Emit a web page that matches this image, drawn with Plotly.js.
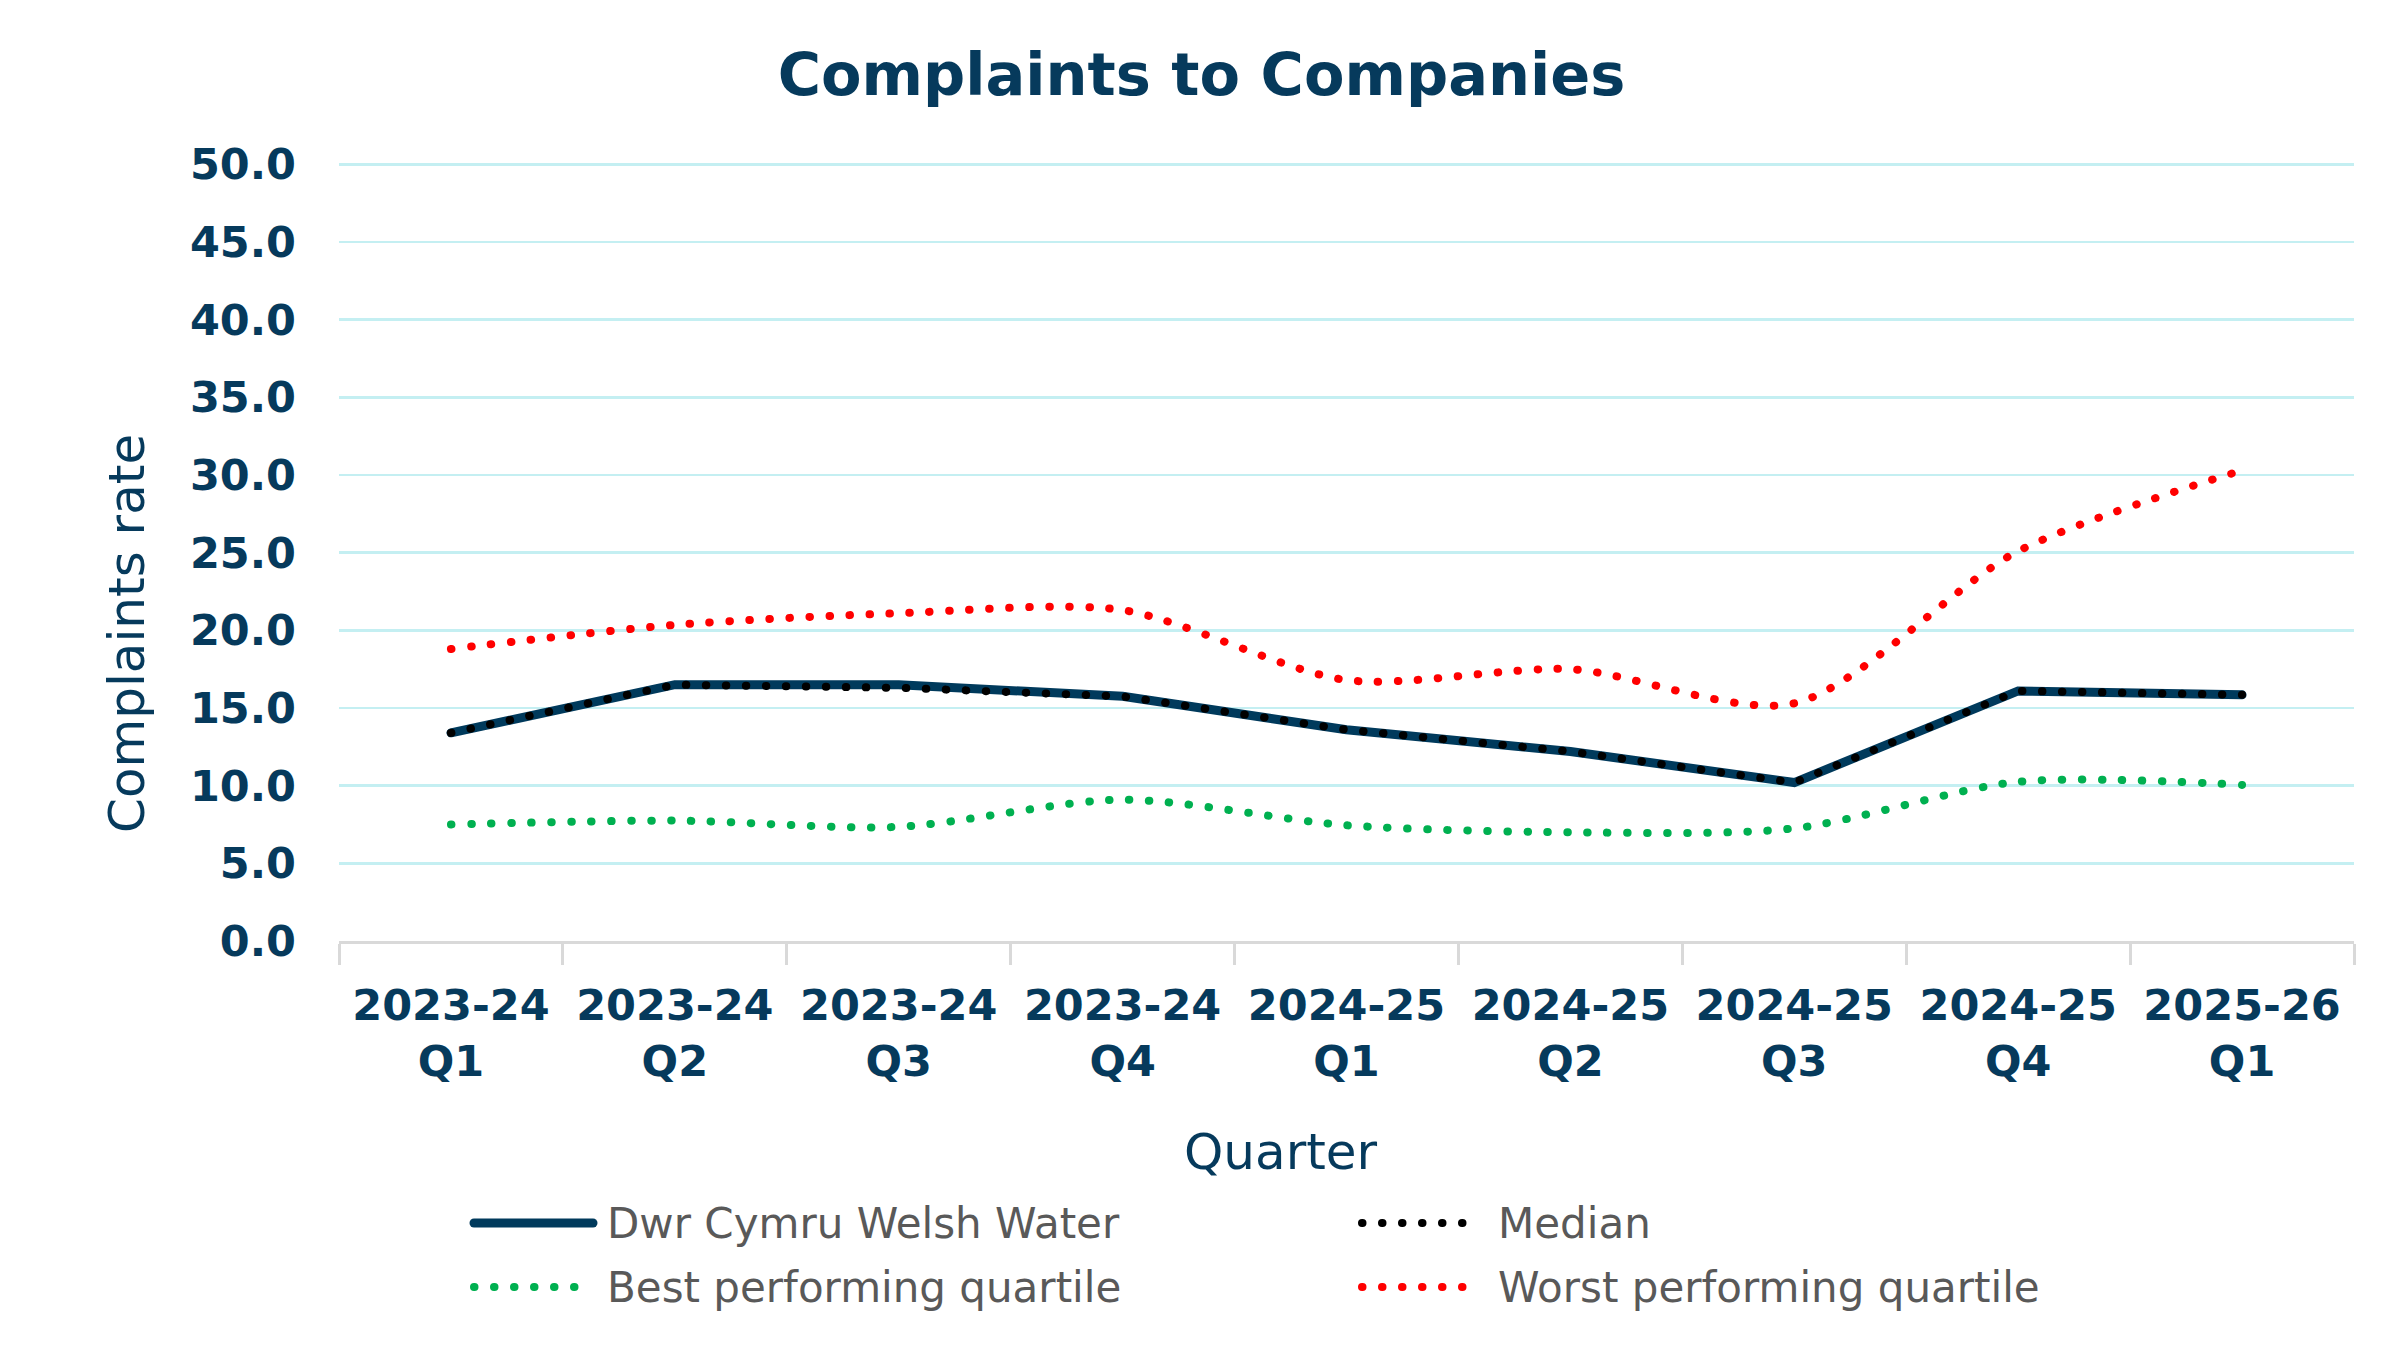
<!DOCTYPE html>
<html>
<head>
<meta charset="utf-8">
<script src="https://cdn.plot.ly/plotly-3.0.1.min.js"></script>
<style>
html, body { margin: 0; padding: 0; background: #ffffff; }
#chart { width: 2403px; height: 1350px; }
.scatterlayer path.js-line, .shapelayer path { stroke-linecap: round; }
</style>
</head>
<body>
<div id="chart"></div>
<script>
// ---- data ----
const categories = ['2023-24 Q1', '2023-24 Q2', '2023-24 Q3', '2023-24 Q4', '2024-25 Q1', '2024-25 Q2', '2024-25 Q3', '2024-25 Q4', '2025-26 Q1'];
const tickLabels = ['2023-24<br>Q1', '2023-24<br>Q2', '2023-24<br>Q3', '2023-24<br>Q4', '2024-25<br>Q1', '2024-25<br>Q2', '2024-25<br>Q3', '2024-25<br>Q4', '2025-26<br>Q1'];
const welshWater = [13.4, 16.5, 16.5, 15.75, 13.6, 12.2, 10.2, 16.1, 15.85];
const median = [13.4, 16.5, 16.3, 15.75, 13.6, 12.2, 10.2, 16.1, 15.85];
const bestQuartile = [7.5, 7.75, 7.35, 9.1, 7.45, 7.0, 7.25, 10.25, 10.05];
const worstQuartile = [18.8, 20.35, 21.1, 21.3, 16.8, 17.5, 15.3, 25.1, 30.3];
const seriesNames = ['Dwr Cymru Welsh Water', 'Median', 'Best performing quartile', 'Worst performing quartile'];
const yTickValues = [0, 5, 10, 15, 20, 25, 30, 35, 40, 45, 50];

// ---- style ----
const NAVY = '#063a5c';
const COLORS = ['#003a5c', '#000000', '#00b050', '#ff0000'];
const DOT = '0.5px,19.5px';
const W = 2403, H = 1350;
const PL = 339, PR = 2354, PT = 162, PB = 941;
const px2x = p => (p - PL) / (PR - PL);
const px2y = p => (PB - p) / (PB - PT);

const traces = [
  { x: categories, y: welshWater, name: seriesNames[0], type: 'scatter', mode: 'lines',
    line: { color: COLORS[0], width: 9 } },
  { x: categories, y: median, name: seriesNames[1], type: 'scatter', mode: 'lines',
    line: { color: COLORS[1], width: 8, dash: DOT } },
  { x: categories, y: bestQuartile, name: seriesNames[2], type: 'scatter', mode: 'lines',
    line: { color: COLORS[2], width: 8, dash: DOT, shape: 'spline', smoothing: 0.8 } },
  { x: categories, y: worstQuartile, name: seriesNames[3], type: 'scatter', mode: 'lines',
    line: { color: COLORS[3], width: 8, dash: DOT, shape: 'spline', smoothing: 0.8 } }
];

// custom legend
const legendItems = [
  { i: 0, x0: 474, x1: 593, y: 1223, tx: 605, dash: 'solid', w: 9 },
  { i: 1, x0: 1362, x1: 1470, y: 1223, tx: 1496, dash: DOT, w: 8 },
  { i: 2, x0: 474, x1: 578, y: 1287, tx: 605, dash: DOT, w: 8 },
  { i: 3, x0: 1362, x1: 1470, y: 1287, tx: 1496, dash: DOT, w: 8 }
];
const shapes = legendItems.map(it => ({
  type: 'line', xref: 'paper', yref: 'paper',
  x0: px2x(it.x0), x1: px2x(it.x1), y0: px2y(it.y), y1: px2y(it.y),
  line: { color: COLORS[it.i], width: it.w, dash: it.dash }
}));
const annotations = legendItems.map(it => ({
  xref: 'paper', yref: 'paper', x: px2x(it.tx), y: px2y(it.y),
  xanchor: 'left', yanchor: 'middle', showarrow: false,
  text: seriesNames[it.i],
  font: { family: 'DejaVu Sans', size: 42, color: '#595959' }
}));
annotations.push({
  xref: 'paper', yref: 'paper', x: px2x(1281), y: px2y(1152),
  xanchor: 'center', yanchor: 'middle', showarrow: false,
  text: 'Quarter', font: { family: 'DejaVu Sans', size: 50, color: NAVY }
});
annotations.push({
  xref: 'paper', yref: 'paper', x: px2x(127), y: px2y(634),
  xanchor: 'center', yanchor: 'middle', showarrow: false, textangle: -90,
  text: 'Complaints rate', font: { family: 'DejaVu Sans', size: 50, color: NAVY }
});

const layout = {
  width: W, height: H,
  paper_bgcolor: '#ffffff', plot_bgcolor: '#ffffff',
  margin: { l: PL, r: W - PR, t: PT, b: H - PB, pad: 0 },
  showlegend: false,
  title: {
    text: '<b>Complaints to Companies</b>',
    x: 0.5, xref: 'container', xanchor: 'center',
    y: 1 - 74 / H, yref: 'container', yanchor: 'middle',
    font: { family: 'DejaVu Sans', size: 59, color: NAVY }
  },
  xaxis: {
    type: 'category',
    range: [-0.5, categories.length - 0.5],
    tickvals: categories, ticktext: tickLabels.map(t => '<b>' + t + '</b>'),
    showgrid: false, zeroline: false,
    showline: true, linecolor: '#d9d9d9', linewidth: 3,
    ticks: 'outside', tickson: 'boundaries', ticklen: 21, tickwidth: 3, tickcolor: '#d9d9d9',
    ticklabelstandoff: 24,
    tickfont: { family: 'DejaVu Sans', size: 43, color: NAVY },
    fixedrange: true
  },
  yaxis: {
    range: [0, 50.15], tickvals: yTickValues,
    ticktext: yTickValues.map(v => '<b>' + v.toFixed(1) + '</b>'),
    showgrid: true, gridcolor: '#c4eff2', gridwidth: 2.5,
    zeroline: false, showline: false, ticks: '',
    ticklabelstandoff: 42,
    tickfont: { family: 'DejaVu Sans', size: 43, color: NAVY },
    fixedrange: true
  },
  shapes: shapes,
  annotations: annotations
};

Plotly.newPlot('chart', traces, layout, { staticPlot: true, displayModeBar: false });
</script>
</body>
</html>
